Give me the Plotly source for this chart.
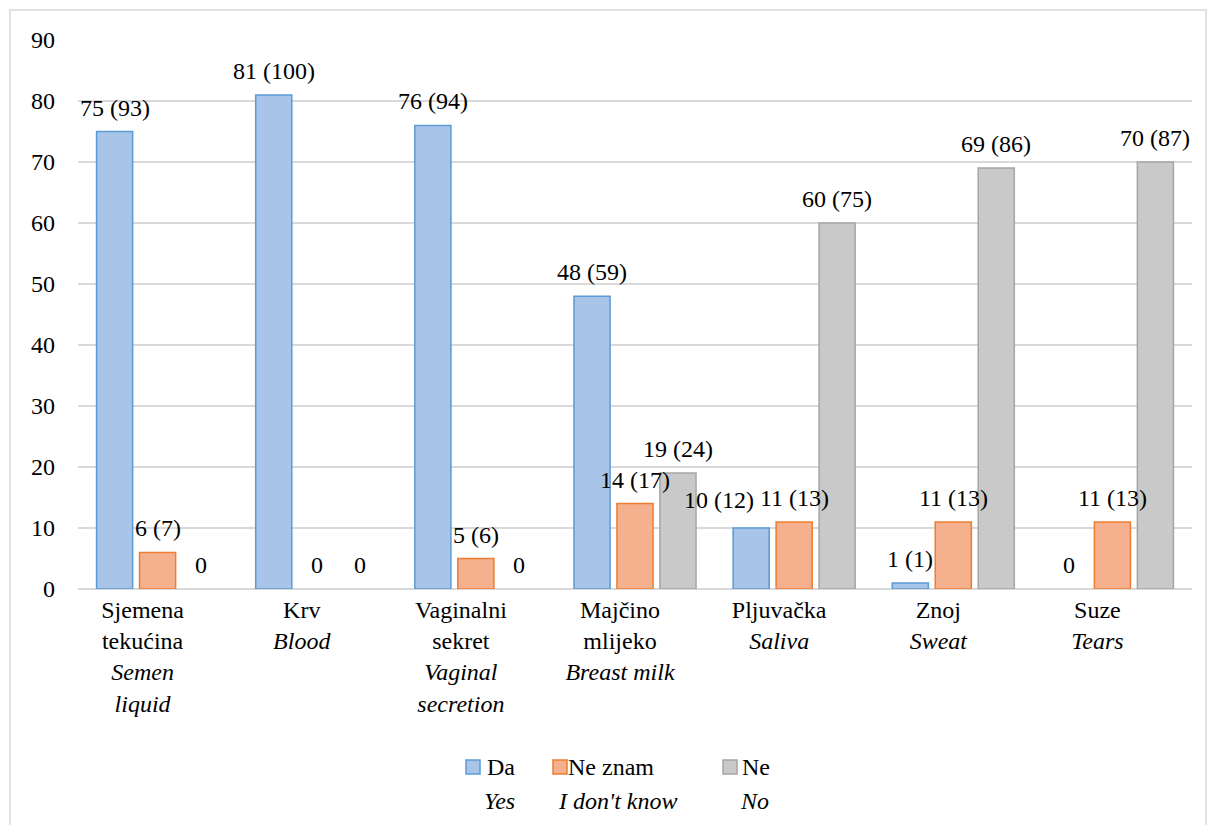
import plotly.graph_objects as go

# Categories (Croatian name + English translation in italics)
categories_hr = ["Sjemena<br>tekućina", "Krv", "Vaginalni<br>sekret", "Majčino<br>mlijeko",
                 "Pljuvačka", "Znoj", "Suze"]
categories_en = ["Semen<br>liquid", "Blood", "Vaginal<br>secretion", "Breast milk",
                 "Saliva", "Sweat", "Tears"]

# Counts and percentages per answer
da_n = [75, 81, 76, 48, 10, 1, 0]
da_pct = [93, 100, 94, 59, 12, 1, 0]
neznam_n = [6, 0, 5, 14, 11, 11, 11]
neznam_pct = [7, 0, 6, 17, 13, 13, 13]
ne_n = [0, 0, 0, 19, 60, 69, 70]
ne_pct = [0, 0, 0, 24, 75, 86, 87]

series_hr = ["Da", "Ne znam", "Ne"]
series_en = ["Yes", "I don't know", "No"]
y_ticks = [0, 10, 20, 30, 40, 50, 60, 70, 80, 90]

FONT = "Liberation Serif, Times New Roman, serif"
FS = 24
fills = ["#a8c4e8", "#f5b08d", "#c9c9c9"]
lines = ["#5b9bd5", "#ed7d31", "#a5a5a5"]

W, H = 1208, 825
L, R, T, B = 78, 16, 40, 236
pw, ph = W - L - R, H - T - B
BARGAP = 0.19
slot = (1 - BARGAP) / 3

x_idx = list(range(len(categories_hr)))
tick_text = [f"{hr}<br><i>{en}</i>" for hr, en in zip(categories_hr, categories_en)]

fig = go.Figure()
all_n = [da_n, neznam_n, ne_n]
all_pct = [da_pct, neznam_pct, ne_pct]
for k in range(3):
    fig.add_trace(go.Bar(
        x=x_idx, y=all_n[k], name=series_hr[k],
        marker=dict(color=fills[k],
                    line=dict(color=lines[k], width=[1.5 if v else 0 for v in all_n[k]])),
        showlegend=False,
    ))

# Value labels "n (%)" above each bar
annotations = []
for k in range(3):
    for i in x_idx:
        n, p = all_n[k][i], all_pct[k][i]
        txt = "0" if n == 0 else f"{n} ({p})"
        xs, ys = 0, 24
        if k == 0 and i == 4:
            xs, ys = -32, 28
        annotations.append(dict(
            x=i + (k - 1) * slot, y=n, xref="x", yref="y", text=txt,
            showarrow=False, xshift=xs, yshift=ys, yanchor="middle",
            font=dict(family=FONT, size=FS, color="black"),
        ))

def px_x(px):
    return (px - L) / pw

def px_y(py):
    return (H - B - py) / ph

# Legend: coloured squares with Croatian label and English line below
shapes = []
leg_sq_x = [466, 553, 723]
leg_txt_x = [487, 568, 742]
leg_en_cx = [499, 617, 754]
for k in range(3):
    shapes.append(dict(
        type="rect", xref="paper", yref="paper",
        x0=px_x(leg_sq_x[k]), x1=px_x(leg_sq_x[k] + 14),
        y0=px_y(774), y1=px_y(760),
        fillcolor=fills[k], line=dict(color=lines[k], width=1.5),
    ))
    annotations.append(dict(
        x=px_x(leg_txt_x[k] - 2), y=px_y(767), xref="paper", yref="paper",
        text=series_hr[k], showarrow=False, xanchor="left", yanchor="middle",
        font=dict(family=FONT, size=FS, color="black"),
    ))
    annotations.append(dict(
        x=px_x(leg_en_cx[k]), y=px_y(801), xref="paper", yref="paper",
        text=f"<i>{series_en[k]}</i>", showarrow=False, xanchor="center", yanchor="middle",
        font=dict(family=FONT, size=FS, color="black"),
    ))

# Chart frame
shapes.append(dict(
    type="rect", xref="paper", yref="paper", layer="below",
    x0=px_x(10), x1=px_x(1206), y0=px_y(840), y1=px_y(10),
    line=dict(color="#d9d9d9", width=1.5), fillcolor="rgba(0,0,0,0)",
))

fig.update_layout(
    width=W, height=H,
    margin=dict(l=L, r=R, t=T, b=B),
    paper_bgcolor="white", plot_bgcolor="white",
    barmode="group", bargap=BARGAP, bargroupgap=0.16,
    annotations=annotations, shapes=shapes,
    font=dict(family=FONT, size=FS, color="black"),
)
fig.update_xaxes(
    tickmode="array", tickvals=x_idx, ticktext=tick_text,
    range=[-0.5, len(x_idx) - 0.5],
    showgrid=False, showline=False, zeroline=False,
    ticks="", ticklabelshift=-15, ticklabelstandoff=4,
    tickfont=dict(family=FONT, size=FS, color="black"),
)
fig.update_yaxes(
    range=[0, 90], tickmode="array", tickvals=y_ticks,
    showgrid=True, gridcolor="#d9d9d9", gridwidth=1.5,
    zeroline=True, zerolinecolor="#d9d9d9", zerolinewidth=1.5,
    showline=False, ticks="", ticklabelstandoff=22,
    tickfont=dict(family=FONT, size=FS, color="black"),
)

fig.write_html("out.html")
